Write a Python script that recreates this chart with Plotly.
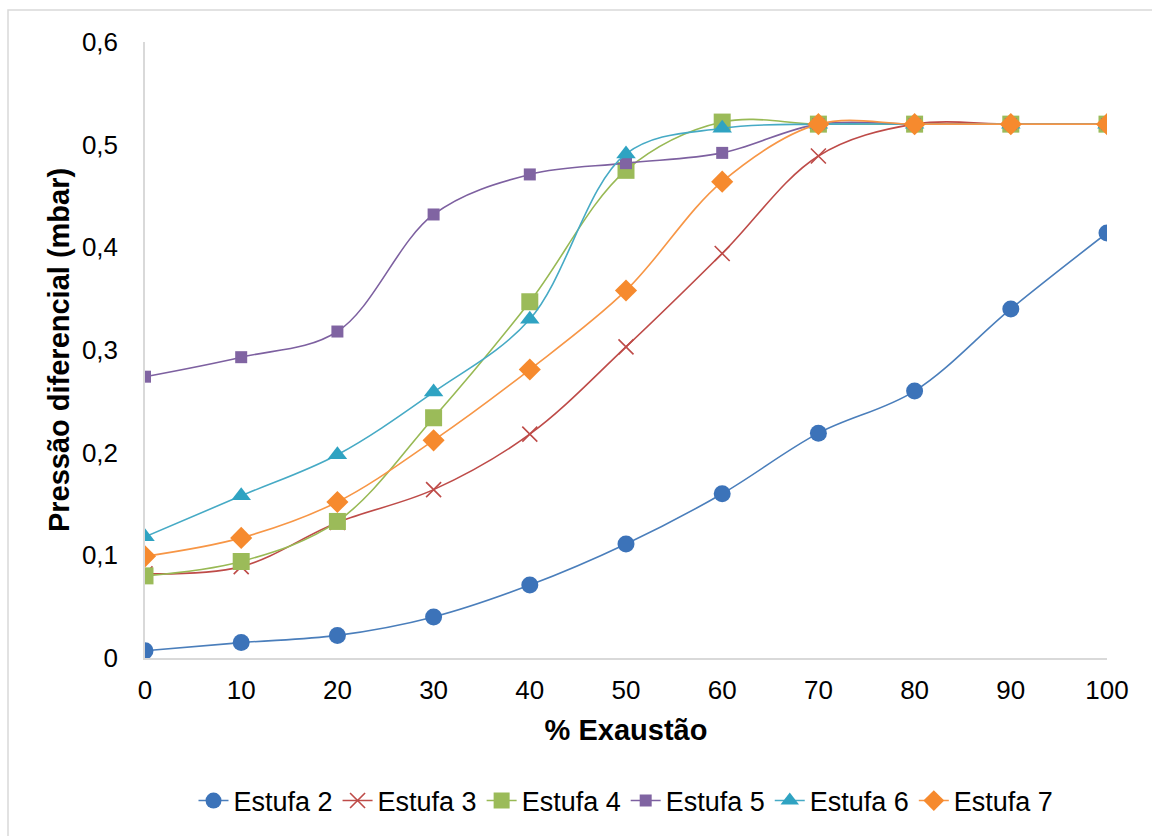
import plotly.graph_objects as go

# Percent of exhaust opening
exaustao = [0, 10, 20, 30, 40, 50, 60, 70, 80, 90, 100]

# Differential pressure (mbar) per greenhouse
estufa_2 = [0.007, 0.015, 0.022, 0.040, 0.071, 0.111, 0.160, 0.219, 0.260, 0.340, 0.414]
estufa_3 = [0.082, 0.089, 0.132, 0.164, 0.218, 0.303, 0.394, 0.489, 0.520, 0.520, 0.520]
estufa_4 = [0.080, 0.094, 0.133, 0.234, 0.347, 0.475, 0.522, 0.520, 0.520, 0.520, 0.520]
estufa_5 = [0.274, 0.293, 0.318, 0.432, 0.471, 0.482, 0.492, 0.520, 0.520, 0.520, 0.520]
estufa_6 = [0.118, 0.158, 0.198, 0.259, 0.330, 0.491, 0.516, 0.520, 0.520, 0.520, 0.520]
estufa_7 = [0.099, 0.117, 0.152, 0.212, 0.281, 0.358, 0.464, 0.520, 0.520, 0.520, 0.520]

series = [
    ("Estufa 2", estufa_2, "#4A7EBB", "#3C73B9", "circle", 17),
    ("Estufa 3", estufa_3, "#BE4B48", "#BE4B48", "x-thin", 15),
    ("Estufa 4", estufa_4, "#98B954", "#9BBB59", "square", 17),
    ("Estufa 5", estufa_5, "#7D60A0", "#8064A2", "square", 12),
    ("Estufa 6", estufa_6, "#46AAC5", "#2FA3C2", "triangle-up", 17),
    ("Estufa 7", estufa_7, "#F79646", "#F68A2E", "diamond", 17),
]

fig = go.Figure()
for name, vals, lcolor, mcolor, symbol, size in series:
    marker = dict(symbol=symbol, size=size, color=mcolor)
    if symbol == "x-thin":
        marker["line"] = dict(color=mcolor, width=1.6)
    fig.add_trace(go.Scatter(
        x=exaustao, y=vals, name=name, mode="lines+markers",
        line=dict(color=lcolor, width=1.6, shape="spline", smoothing=1.0),
        marker=marker,
    ))

font_family = "Arial, Liberation Sans, sans-serif"

# plot area in pixels: x 145..1107, y 42..658
pw, ph = 962, 616

fig.update_layout(
    width=1152, height=836,
    margin=dict(l=145, r=45, t=42, b=178, autoexpand=False),
    paper_bgcolor="white", plot_bgcolor="white",
    separators=",.",
    font=dict(family=font_family, size=26, color="black"),
    showlegend=True,
    legend=dict(orientation="h", x=0.5, xanchor="center", y=-(801 - 658) / ph, yanchor="middle",
                font=dict(size=27), itemwidth=30, tracegroupgap=0),
    xaxis=dict(
        range=[0, 100], tickvals=exaustao, showgrid=False, zeroline=False,
        showline=True, linecolor="#D9D9D9", linewidth=1.5, ticks="",
        ticklabelstandoff=8,
        title=dict(text="<b>% Exaustão</b>", font=dict(size=29), standoff=16),
        tickfont=dict(size=26),
    ),
    yaxis=dict(
        range=[0, 0.6], dtick=0.1, showgrid=False, zeroline=False,
        showline=True, linecolor="#D9D9D9", linewidth=1.5, ticks="",
        ticklabelstandoff=20,
        title=dict(text="<b>Pressão diferencial (mbar)</b>", font=dict(size=29), standoff=4),
        tickfont=dict(size=26),
    ),
    shapes=[dict(type="rect", xref="paper", yref="paper",
                 x0=(8 - 145) / pw, x1=(1170 - 145) / pw,
                 y0=(658 - 850) / ph, y1=(658 - 10) / ph,
                 line=dict(color="#D9D9D9", width=1.5))],
)

fig.write_html("out.html")
